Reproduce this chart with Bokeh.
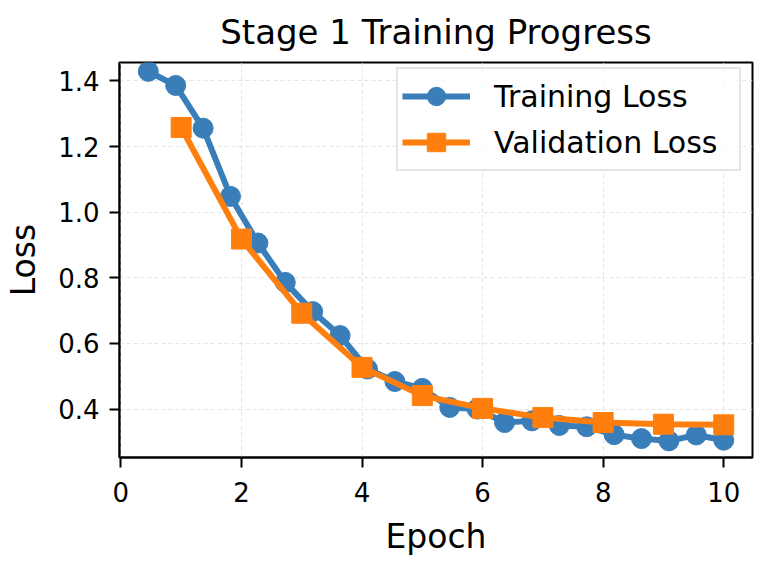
from bokeh.plotting import figure
from bokeh.models import (Range1d, FixedTicker, Legend, LegendItem,
                          NumeralTickFormatter)
from bokeh.embed import file_html
from bokeh.resources import INLINE

# Training loss, logged 22 times over the 10 epochs
train_epochs = [0.455, 0.909, 1.364, 1.818, 2.273, 2.727, 3.182, 3.636,
                4.091, 4.545, 5.0, 5.455, 5.909, 6.364, 6.818, 7.273,
                7.727, 8.182, 8.636, 9.091, 9.545, 10.0]
train_loss = [1.429, 1.386, 1.256, 1.048, 0.906, 0.786, 0.697, 0.624,
              0.522, 0.484, 0.463, 0.405, 0.400, 0.359, 0.364, 0.350,
              0.346, 0.322, 0.310, 0.303, 0.321, 0.305]

# Validation loss, once per epoch
val_epochs = [1, 2, 3, 4, 5, 6, 7, 8, 9, 10]
val_loss = [1.258, 0.918, 0.692, 0.527, 0.441, 0.402, 0.374, 0.359,
            0.354, 0.352]

x_ticks = [0, 2, 4, 6, 8, 10]
y_ticks = [0.4, 0.6, 0.8, 1.0, 1.2, 1.4]

BLUE = "#3a7eb9"
ORANGE = "#ff7f0e"
FONT = "DejaVu Sans"

p = figure(width=760, height=562, output_backend="svg", toolbar_location=None,
           x_range=Range1d(-0.023, 10.477), y_range=Range1d(0.2524, 1.456),
           min_border_left=119, min_border_right=8, min_border_top=62,
           min_border_bottom=105)

p.title.text = "Stage 1 Training Progress"
p.title.align = "center"
p.title.vertical_align = "middle"
p.title.text_font = FONT
p.title.text_font_size = "34px"
p.title.text_font_style = "normal"
p.title.text_color = "black"
p.title.standoff = 20

p.outline_line_color = "black"
p.outline_line_width = 2
p.outline_line_alpha = 1

for ax in (p.xaxis[0], p.yaxis[0]):
    ax.axis_line_width = 2
    ax.axis_line_color = "black"
    ax.major_tick_line_width = 2
    ax.major_tick_line_color = "black"
    ax.major_tick_out = 10
    ax.major_tick_in = 0
    ax.minor_tick_line_color = None
    ax.major_label_text_font = FONT
    ax.major_label_text_font_size = "26px"
    ax.major_label_text_color = "black"
    ax.axis_label_text_font = FONT
    ax.axis_label_text_font_size = "33px"
    ax.axis_label_text_font_style = "normal"
    ax.axis_label_text_color = "black"

p.xaxis.axis_label = "Epoch"
p.yaxis.axis_label = "Loss"
p.xaxis.ticker = FixedTicker(ticks=x_ticks)
p.yaxis.ticker = FixedTicker(ticks=y_ticks)
p.xaxis.formatter = NumeralTickFormatter(format="0")
p.yaxis.formatter = NumeralTickFormatter(format="0.0")
p.xaxis.major_label_standoff = 14
p.yaxis.major_label_standoff = 10
p.xaxis.axis_label_standoff = 12
p.yaxis.axis_label_standoff = 12

for g in (p.xgrid[0], p.ygrid[0]):
    g.grid_line_color = "#dddddd"
    g.grid_line_dash = "4 3"
    g.grid_line_width = 1
    g.grid_line_alpha = 0.8

tl = p.line(train_epochs, train_loss, line_color=BLUE, line_width=6)
ts = p.scatter(train_epochs, train_loss, marker="circle", size=20,
               fill_color=BLUE, line_color=BLUE)
vl = p.line(val_epochs, val_loss, line_color=ORANGE, line_width=6)
vs = p.scatter(val_epochs, val_loss, marker="square", size=20,
               fill_color=ORANGE, line_color=ORANGE)

legend = Legend(items=[LegendItem(label="Training Loss", renderers=[tl, ts]),
                       LegendItem(label="Validation Loss", renderers=[vl, vs])],
                location=(277, 286), margin=0, padding=4, spacing=0,
                glyph_width=68, glyph_height=46, label_height=46,
                label_width=241, label_standoff=24, label_text_font=FONT,
                label_text_font_size="30px", label_text_color="black",
                border_line_color="#cccccc", border_line_width=2,
                background_fill_color="white", background_fill_alpha=0.8)
p.add_layout(legend)

open("out.html", "w").write(file_html(p, INLINE))
